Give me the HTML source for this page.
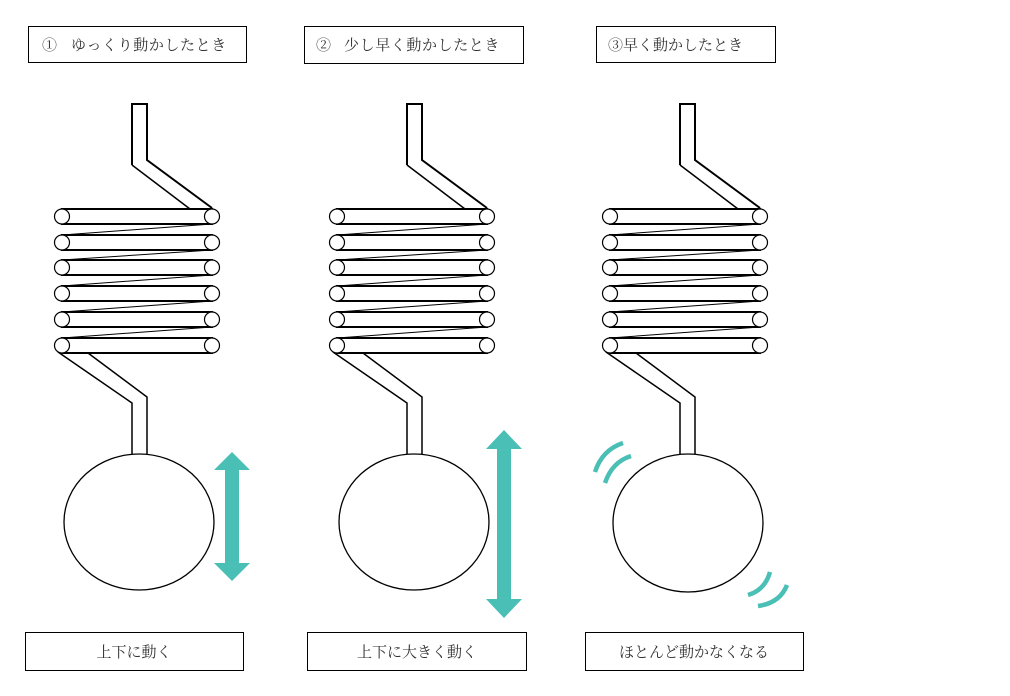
<!DOCTYPE html><html><head><meta charset="utf-8"><style>body{margin:0;background:#fff}svg{display:block}text{font-family:"Liberation Serif","Noto Serif CJK SC",serif;font-size:15px;fill:#333}</style></head><body>
<svg width="1010" height="696" viewBox="0 0 1010 696" xmlns="http://www.w3.org/2000/svg">
<defs>
<g id="spring" fill="none" stroke="#000">
<path d="M132,165 V104 H147 V160 L212,208" stroke-width="2" fill="#fff"/>
<path d="M132,165 L190,209" stroke-width="1.5"/>
<g stroke-width="2">
<rect x="62" y="209" width="150" height="15" fill="#fff"/>
<rect x="62" y="235" width="150" height="15" fill="#fff"/>
<rect x="62" y="260" width="150" height="15" fill="#fff"/>
<rect x="62" y="286" width="150" height="15" fill="#fff"/>
<rect x="62" y="312" width="150" height="15" fill="#fff"/>
<rect x="62" y="338" width="150" height="15" fill="#fff"/>
</g>
<g stroke-width="1">
<path d="M212,224 L62,235 M212,250 L62,260 M212,275 L62,286 M212,301 L62,312 M212,327 L62,338"/>
</g>
<g stroke-width="1.2" fill="#fff">
<circle cx="62" cy="216.5" r="7.5"/><circle cx="212" cy="216.5" r="7.5"/>
<circle cx="62" cy="242.5" r="7.5"/><circle cx="212" cy="242.5" r="7.5"/>
<circle cx="62" cy="267.5" r="7.5"/><circle cx="212" cy="267.5" r="7.5"/>
<circle cx="62" cy="293.5" r="7.5"/><circle cx="212" cy="293.5" r="7.5"/>
<circle cx="62" cy="319.5" r="7.5"/><circle cx="212" cy="319.5" r="7.5"/>
<circle cx="62" cy="345.5" r="7.5"/><circle cx="212" cy="345.5" r="7.5"/>
</g>
<path d="M58,352 L132,403 V455 M88,353 L147,397 V455" stroke-width="1.5"/>
</g>
</defs>
<use href="#spring"/>
<use href="#spring" transform="translate(275,0)"/>
<use href="#spring" transform="translate(548,0)"/>
<g fill="#fff" stroke="#000" stroke-width="1.3">
<ellipse cx="139" cy="522" rx="75" ry="68"/>
<ellipse cx="414" cy="522" rx="75" ry="68"/>
<ellipse cx="688" cy="523" rx="75" ry="69"/>
</g>
<g fill="#4ABFB5">
<path d="M232,452 L250,470 H239 V563 H250 L232,581 L214,563 H225 V470 H214 Z"/>
<path d="M504,430 L522,449 H511 V599 H522 L504,618 L486,599 H497 V449 H486 Z"/>
</g>
<g fill="none" stroke="#4ABFB5" stroke-width="4.5" stroke-linecap="butt">
<path d="M623,443 Q602,450 595,472"/>
<path d="M631,456 Q612,462 605,483"/>
<path d="M770,572 Q765,590 748,595"/>
<path d="M787,585 Q780,603 758,606"/>
</g>
<g fill="#fff" stroke="#000" stroke-width="1">
<rect x="28.5" y="26.5" width="218" height="36"/>
<rect x="304.5" y="26.5" width="219" height="37"/>
<rect x="596.5" y="26.5" width="179" height="36"/>
<rect x="25.5" y="632.5" width="218" height="38"/>
<rect x="307.5" y="632.5" width="219" height="38"/>
<rect x="585.5" y="632.5" width="218" height="38"/>
</g>
<text x="42" y="50">①</text><text x="71" y="50" letter-spacing="0.6">ゆっくり動かしたとき</text>
<text x="316" y="50">②</text><text x="344" y="50" letter-spacing="0.6">少し早く動かしたとき</text>
<text x="608" y="50">③早く動かしたとき</text>
<text x="134" y="657" text-anchor="middle">上下に動く</text>
<text x="417" y="657" text-anchor="middle">上下に大きく動く</text>
<text x="694" y="657" text-anchor="middle">ほとんど動かなくなる</text>
</svg>
</body></html>
